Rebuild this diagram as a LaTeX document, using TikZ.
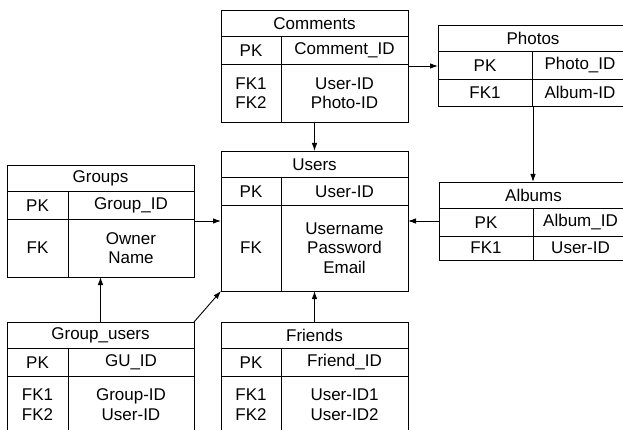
\documentclass[tikz,border=0pt]{standalone}
\usepackage{fontspec}
\setmainfont{Liberation Sans}
\usetikzlibrary{arrows.meta}
\tikzset{
  tblbox/.style={draw, line width=0.9pt, rectangle, inner sep=0pt, outer sep=0pt},
  tblline/.style={line width=0.9pt},
  txt/.style={inner sep=0pt, align=center, font=\fontsize{17}{19.5}\selectfont},
  arr/.style={line width=0.9pt, -{Latex[length=8pt,width=5.5pt]}},
}
% #1 name #2 left #3 right #4 top #5 bottom #6 divider #7 title #8 pk field
\newcommand\ertable[8]{%
  \node[tblbox, minimum width={(#3-#2)*1pt}, minimum height={(#5-#4)*1pt}] (#1) at ({(#2+#3)/2},{(#4+#5)/2}) {};
  \draw[tblline] (#2,{#4+26.5}) -- (#3,{#4+26.5});
  \draw[tblline] (#2,{#4+54}) -- (#3,{#4+54});
  \draw[tblline] (#6,{#4+26.5}) -- (#6,#5);
  \node[txt] (#1-title) at ({(#2+#3)/2},{#4+13.5}) {#7};
  \node[txt] (#1-pk) at ({(#2+#6)/2},{#4+40.5}) {PK};
  \node[txt] (#1-pkf) at ({(#6+#3)/2},{#4+40.5}) {#8};
}
% #1 name #2 left #3 divider #4 right #5 top #6 bottom #7 left text #8 right text
\newcommand\ertfk[8]{%
  \node[txt] (#1-fk) at ({(#2+#3)/2},{(#5+54+#6)/2}) {#7};
  \node[txt] (#1-fkf) at ({(#3+#4)/2},{(#5+54+#6)/2}) {#8};
}
\begin{document}
\begin{tikzpicture}[x=1pt,y=-1pt]
\useasboundingbox (0,0) rectangle (623,430);
\fill[white] (0,0) rectangle (623,430);
\clip (0,0) rectangle (623,430);

\ertable{comments}{221}{408}{10}{122}{281}{Comments}{Comment\_ID}
\ertfk{comments}{221}{281}{408}{10}{122}{FK1\\FK2}{User-ID\\Photo-ID}

\ertable{photos}{438}{628}{25}{106}{532}{Photos}{Photo\_ID}
\ertfk{photos}{438}{532}{628}{25}{106}{FK1}{Album-ID}

\ertable{albums}{439}{628}{182}{260}{533}{Albums}{Album\_ID}
\ertfk{albums}{439}{533}{628}{182}{260}{FK1}{User-ID}

\ertable{users}{221}{408}{151}{291}{281}{Users}{User-ID}
\ertfk{users}{221}{281}{408}{151}{291}{FK}{Username\\Password\\Email}

\ertable{groups}{7}{194}{165}{277}{68}{Groups}{Group\_ID}
\ertfk{groups}{7}{68}{194}{165}{277}{FK}{Owner\\Name}

\ertable{gusers}{7}{194}{322}{433}{68}{Group\_users}{GU\_ID}
\ertfk{gusers}{7}{68}{194}{322}{433}{FK1\\FK2}{Group-ID\\User-ID}

\ertable{friends}{221}{408}{322}{433}{281}{Friends}{Friend\_ID}
\ertfk{friends}{221}{281}{408}{322}{433}{FK1\\FK2}{User-ID1\\User-ID2}

% connectors
\draw[arr] (comments.east) -- (comments.east -| photos.west);
\draw[arr] (comments.south) -- (users.north);
\draw[arr] (photos.south) -- (photos.south |- albums.north);
\draw[arr] (albums.west) -- (albums.west -| users.east);
\draw[arr] (groups.east) -- (groups.east -| users.west);
\draw[arr] (gusers.north) -- (groups.south);
\draw[arr] (gusers.north east) -- (users.south west);
\draw[arr] (friends.north) -- (users.south);
\end{tikzpicture}
\end{document}
